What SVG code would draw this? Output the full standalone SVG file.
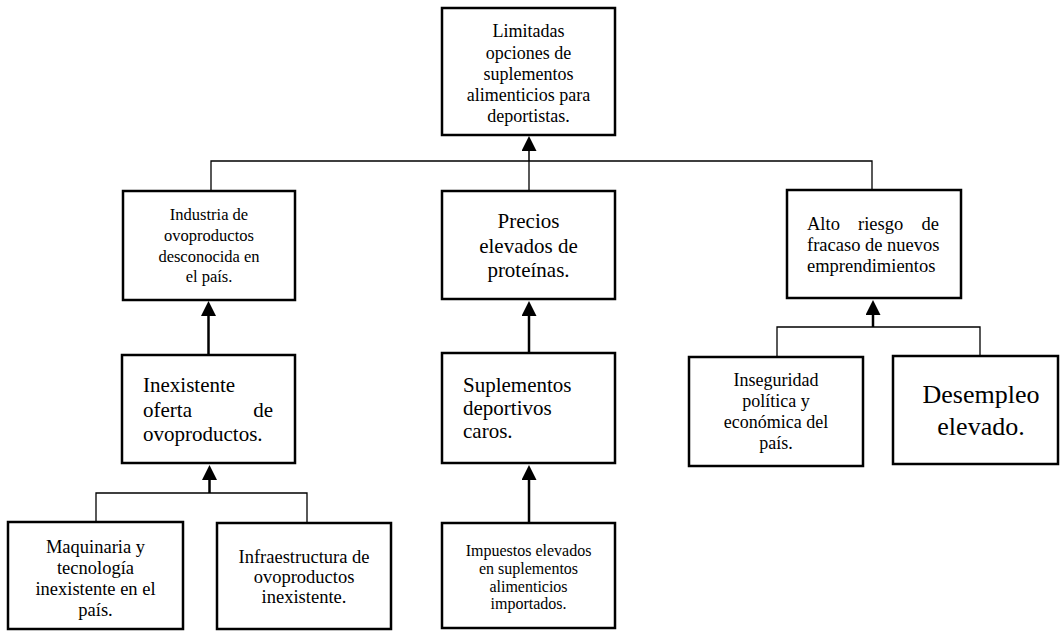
<svg xmlns="http://www.w3.org/2000/svg" width="1060" height="632" viewBox="0 0 1060 632">
  <style>
    .box { fill: #ffffff; stroke: #000000; stroke-width: 2.5; }
    .t { font-family: "Liberation Serif", "Times New Roman", serif; fill: #000000; }
    .c { text-anchor: middle; }
    .link { fill: none; stroke: #000000; stroke-width: 1.3; }
    .shaft { fill: none; stroke: #000000; stroke-width: 2.5; marker-end: url(#head); }
    .shaft-thin { fill: none; stroke: #000000; stroke-width: 1.5; marker-end: url(#head); }
  </style>
  <defs>
    <marker id="head" markerUnits="userSpaceOnUse" markerWidth="16" markerHeight="16" refX="11" refY="7.5" orient="auto">
      <path d="M0,0 L15,7.5 L0,15 z" fill="#000000"/>
    </marker>
  </defs>
  <rect width="1060" height="632" fill="#ffffff"/>

  <!-- connectors -->
  <g id="connectors">
    <!-- level 1 branches into the main problem -->
    <path class="link" d="M211,191 V161 H872 V190 M529,161 V191"/>
    <line class="shaft-thin" x1="529" y1="161" x2="529" y2="140"/>
    <!-- Inexistente -> Industria -->
    <line class="shaft" x1="208.5" y1="355" x2="208.5" y2="305"/>
    <!-- Suplementos -> Precios -->
    <line class="shaft" x1="529" y1="353" x2="529" y2="305"/>
    <!-- Impuestos -> Suplementos -->
    <line class="shaft" x1="529" y1="523" x2="529" y2="469"/>
    <!-- Maquinaria / Infraestructura -> Inexistente -->
    <path class="link" d="M96,522 V493 H307 V523"/>
    <line class="shaft" x1="209.5" y1="493" x2="209.5" y2="469"/>
    <!-- Inseguridad / Desempleo -> Alto riesgo -->
    <path class="link" d="M777,357 V327 H980 V356"/>
    <line class="shaft" x1="873" y1="327" x2="873" y2="304"/>
  </g>

  <g id="limitadas">
    <rect class="box" x="442" y="8" width="173" height="127"/>
    <text class="t c" font-size="18" x="528.5" y="37">Limitadas</text>
    <text class="t c" font-size="18" x="528.5" y="59">opciones de</text>
    <text class="t c" font-size="18" x="528.5" y="80">suplementos</text>
    <text class="t c" font-size="18" x="528.5" y="101">alimenticios para</text>
    <text class="t c" font-size="18" x="528.5" y="122">deportistas.</text>
  </g>

  <g id="industria">
    <rect class="box" x="123" y="191" width="172" height="109"/>
    <text class="t c" font-size="16.5" x="209" y="220">Industria de</text>
    <text class="t c" font-size="16.5" x="209" y="240.5">ovoproductos</text>
    <text class="t c" font-size="16.5" x="209" y="261.5">desconocida en</text>
    <text class="t c" font-size="16.5" x="209" y="282">el país.</text>
  </g>

  <g id="precios">
    <rect class="box" x="442" y="191" width="173" height="108"/>
    <text class="t c" font-size="21" x="528.5" y="228">Precios</text>
    <text class="t c" font-size="21" x="528.5" y="253">elevados de</text>
    <text class="t c" font-size="21" x="528.5" y="277">proteínas.</text>
  </g>

  <g id="alto-riesgo">
    <rect class="box" x="787" y="190" width="174" height="108"/>
    <text class="t" font-size="18.5" x="807" y="230">Alto</text>
    <text class="t" font-size="18.5" x="858" y="230">riesgo</text>
    <text class="t" font-size="18.5" x="939" y="230" text-anchor="end">de</text>
    <text class="t" font-size="18.5" x="807" y="251">fracaso de nuevos</text>
    <text class="t" font-size="18.5" x="807" y="272">emprendimientos</text>
  </g>

  <g id="inexistente">
    <rect class="box" x="122" y="355" width="173" height="108"/>
    <text class="t" font-size="21" x="143" y="392">Inexistente</text>
    <text class="t" font-size="21" x="143" y="417">oferta</text>
    <text class="t" font-size="21" x="273" y="417" text-anchor="end">de</text>
    <text class="t" font-size="21" x="143" y="441">ovoproductos.</text>
  </g>

  <g id="suplementos">
    <rect class="box" x="442" y="353" width="173" height="110"/>
    <text class="t" font-size="21" x="463" y="392">Suplementos</text>
    <text class="t" font-size="21" x="463" y="415">deportivos</text>
    <text class="t" font-size="21" x="463" y="438">caros.</text>
  </g>

  <g id="inseguridad">
    <rect class="box" x="689" y="357" width="174" height="109"/>
    <text class="t c" font-size="18" x="776" y="386">Inseguridad</text>
    <text class="t c" font-size="18" x="776" y="407">política y</text>
    <text class="t c" font-size="18" x="776" y="428">económica del</text>
    <text class="t c" font-size="18" x="776" y="449">país.</text>
  </g>

  <g id="desempleo">
    <rect class="box" x="893" y="356" width="165" height="108"/>
    <text class="t c" font-size="26" x="981" y="403">Desempleo</text>
    <text class="t c" font-size="26" x="981" y="435">elevado.</text>
  </g>

  <g id="maquinaria">
    <rect class="box" x="8" y="522" width="175" height="107"/>
    <text class="t c" font-size="18.5" x="95.5" y="553">Maquinaria y</text>
    <text class="t c" font-size="18.5" x="95.5" y="574">tecnología</text>
    <text class="t c" font-size="18.5" x="95.5" y="595">inexistente en el</text>
    <text class="t c" font-size="18.5" x="95.5" y="616">país.</text>
  </g>

  <g id="infraestructura">
    <rect class="box" x="217" y="523" width="174" height="106"/>
    <text class="t c" font-size="18.5" x="304" y="563">Infraestructura de</text>
    <text class="t c" font-size="18.5" x="304" y="583">ovoproductos</text>
    <text class="t c" font-size="18.5" x="304" y="603">inexistente.</text>
  </g>

  <g id="impuestos">
    <rect class="box" x="442" y="523" width="173" height="105"/>
    <text class="t c" font-size="16" x="528.5" y="556">Impuestos elevados</text>
    <text class="t c" font-size="16" x="528.5" y="574">en suplementos</text>
    <text class="t c" font-size="16" x="528.5" y="591.5">alimenticios</text>
    <text class="t c" font-size="16" x="528.5" y="609">importados.</text>
  </g>
</svg>
